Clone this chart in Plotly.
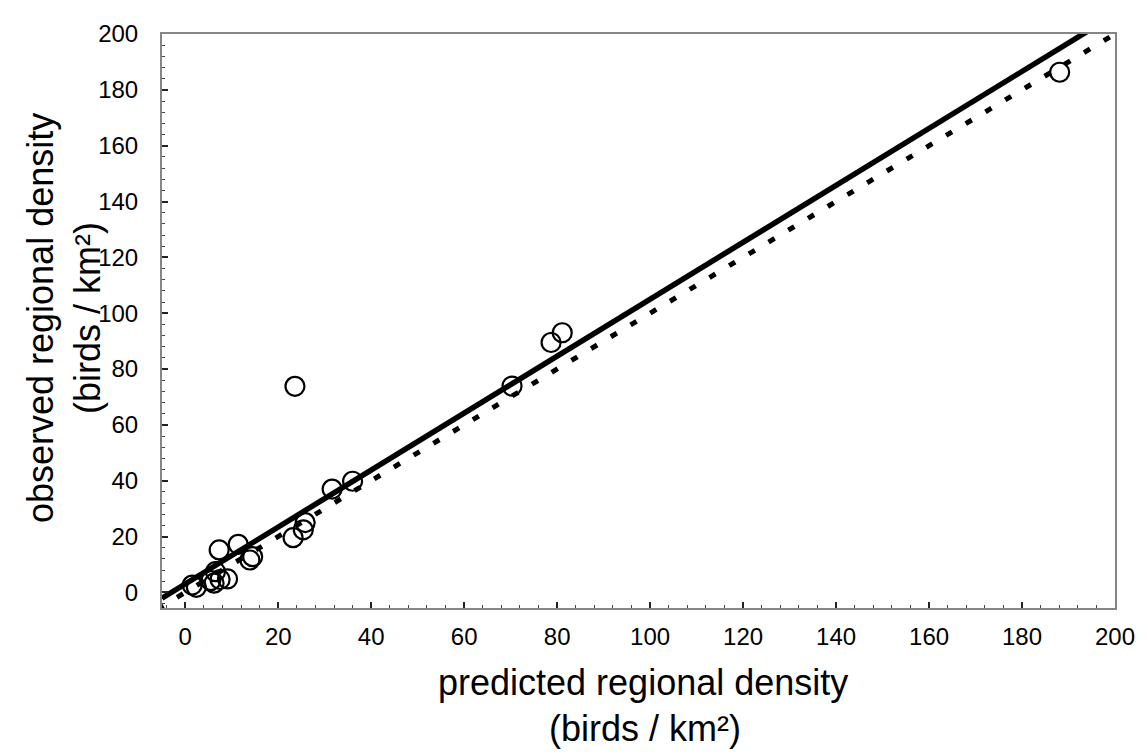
import plotly.graph_objects as go

# observed vs predicted regional density (birds / km^2)
predicted = [188.1, 81.1, 78.7, 70.3, 23.6, 36.0, 31.6, 25.8, 25.4, 23.2,
             14.5, 13.9, 11.4, 7.3, 6.5, 9.1, 7.5, 6.2, 5.5, 2.4, 1.5]
observed = [186.3, 93.0, 89.5, 73.9, 73.8, 39.8, 37.0, 25.0, 22.4, 19.6,
            12.8, 11.6, 17.2, 15.2, 7.4, 4.8, 4.6, 3.3, 4.2, 1.8, 2.6]

# fitted regression line (solid) and 1:1 line (dotted)
fit_x = [-5, 200]
fit_slope = 1.02
fit_intercept = 3.0
fit_y = [fit_slope * v + fit_intercept for v in fit_x]
one_x = [-6, 200]
one_y = [-6, 200]

x_ticks = [0, 20, 40, 60, 80, 100, 120, 140, 160, 180, 200]
y_ticks = [0, 20, 40, 60, 80, 100, 120, 140, 160, 180, 200]

FONT = "Liberation Sans, Arial, sans-serif"

# page body has an 8px margin; plot area in window coords: x 162..1115, y 22..608
L, T, R, B = 162, 22, 1115, 608
PW, PH = R - L, B - T


def px(xw):
    return (xw - L) / PW


def py(yw):
    return (B - yw) / PH


fig = go.Figure()
fig.add_trace(go.Scatter(x=one_x, y=one_y, mode="lines",
                         line=dict(color="black", width=5, dash="7px,16px"),
                         hoverinfo="skip", showlegend=False))
fig.add_trace(go.Scatter(x=fit_x, y=fit_y, mode="lines",
                         line=dict(color="black", width=5.5),
                         hoverinfo="skip", showlegend=False))
fig.add_trace(go.Scatter(x=predicted, y=observed, mode="markers",
                         marker=dict(symbol="circle-open", size=19, color="black",
                                     line=dict(width=2.2, color="black")),
                         showlegend=False))

axis_common = dict(
    showgrid=False, zeroline=False, showline=True, linecolor="#858585", linewidth=2,
    mirror=True, ticks="inside", ticklen=6, tickwidth=1.5, tickcolor="#222",
    tickfont=dict(family=FONT, size=24, color="black"),
    minor=dict(ticks="inside", ticklen=3, tickwidth=1.2, tickcolor="#444", dtick=4),
)

fig.update_xaxes(range=[-5, 200], tickvals=x_ticks, ticklabelstandoff=6, **axis_common)
fig.update_yaxes(range=[-5.6, 200], tickvals=y_ticks, ticklabelstandoff=17, **axis_common)

tfont = dict(family=FONT, size=36, color="black")
fig.add_annotation(text="predicted regional density", xref="paper", yref="paper",
                   x=px(643), y=py(684), xanchor="center", yanchor="middle",
                   showarrow=False, font=tfont)
fig.add_annotation(text="(birds / km²)", xref="paper", yref="paper",
                   x=px(645), y=py(731), xanchor="center", yanchor="middle",
                   showarrow=False, font=tfont)
fig.add_annotation(text="observed regional density", xref="paper", yref="paper",
                   x=px(40), y=py(312), xanchor="center", yanchor="middle",
                   textangle=-90, showarrow=False, font=tfont)
fig.add_annotation(text="(birds / km²)", xref="paper", yref="paper",
                   x=px(87), y=py(312), xanchor="center", yanchor="middle",
                   textangle=-90, showarrow=False, font=tfont)

fig.update_layout(
    width=1140, height=748,
    margin=dict(l=L - 8, r=1148 - R, t=T - 8, b=756 - B),
    plot_bgcolor="white", paper_bgcolor="white",
)

fig.write_html("out.html")
